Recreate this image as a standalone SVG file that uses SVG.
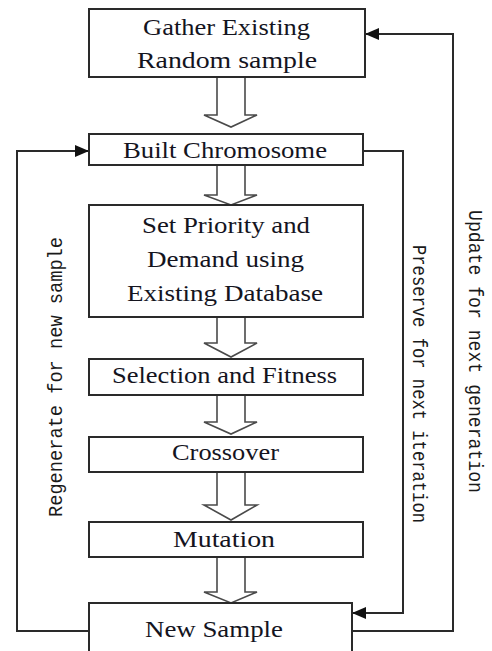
<svg xmlns="http://www.w3.org/2000/svg" width="492" height="651" viewBox="0 0 492 651">
<defs>
<style>
.box{fill:#fff;stroke:#2a2a2a;stroke-width:2}
.ha{fill:#fff;stroke:#4a4a4a;stroke-width:1.6;stroke-linejoin:miter}
.ln{fill:none;stroke:#2a2a2a;stroke-width:2}
</style>
<marker id="ah" markerWidth="14" markerHeight="12" refX="14" refY="6" orient="auto" markerUnits="userSpaceOnUse">
<path d="M0,0 L14,6 L0,12 Z" fill="#111"/>
</marker>
</defs>
<rect width="492" height="651" fill="#fff"/>
<g id="connectors">
<path class="ha" d="M217,77 V115 H204 L231,127 L257,115 H245 V77"/>
<path class="ha" d="M217,165 V195 H204 L231,205 L257,195 H245 V165"/>
<path class="ha" d="M217,317 V343 H204 L231,357 L257,343 H245 V317"/>
<path class="ha" d="M217,395 V422 H204 L231,434 L257,422 H245 V395"/>
<path class="ha" d="M217,472 V505 H204 L231,520 L257,505 H245 V472"/>
<path class="ha" d="M217,557 V592 H204 L231,603 L257,592 H245 V557"/>
<path class="ln" d="M89,631 H17 V151 H89" marker-end="url(#ah)"/>
<path class="ln" d="M363,151 H403 V613 H352" marker-end="url(#ah)"/>
<path class="ln" d="M352,631 H453 V34 H365" marker-end="url(#ah)"/>
</g>
<g font-family="Liberation Serif, serif" font-size="24" fill="#14141e" text-anchor="middle">
<g id="gather">
<rect class="box" x="89" y="9" width="276" height="68"/>
<text x="226.5" y="35" textLength="167" lengthAdjust="spacingAndGlyphs">Gather Existing</text>
<text x="227" y="68" textLength="180" lengthAdjust="spacingAndGlyphs">Random sample</text>
</g>
<g id="built">
<rect class="box" x="89" y="134" width="274" height="31"/>
<text x="225" y="158" textLength="204" lengthAdjust="spacingAndGlyphs">Built Chromosome</text>
</g>
<g id="priority">
<rect class="box" x="89" y="205" width="274" height="112"/>
<text x="226" y="233" textLength="168" lengthAdjust="spacingAndGlyphs">Set Priority  and</text>
<text x="225.5" y="267" textLength="157" lengthAdjust="spacingAndGlyphs">Demand using</text>
<text x="225" y="301" textLength="196" lengthAdjust="spacingAndGlyphs">Existing Database</text>
</g>
<g id="selection">
<rect class="box" x="89" y="359" width="274" height="36"/>
<text x="224.5" y="383" textLength="225" lengthAdjust="spacingAndGlyphs">Selection and Fitness</text>
</g>
<g id="crossover">
<rect class="box" x="89" y="437" width="274" height="35"/>
<text x="225.5" y="460" textLength="107" lengthAdjust="spacingAndGlyphs">Crossover</text>
</g>
<g id="mutation">
<rect class="box" x="89" y="522" width="274" height="35"/>
<text x="224" y="547" textLength="102" lengthAdjust="spacingAndGlyphs">Mutation</text>
</g>
<g id="newsample">
<rect class="box" x="89" y="603" width="263" height="60"/>
<text x="214" y="637" textLength="138" lengthAdjust="spacingAndGlyphs">New Sample</text>
</g>
</g>
<g id="labels" font-family="Liberation Mono, monospace" font-size="20" fill="#1a1a1a" text-anchor="middle">
<text transform="translate(62,377) rotate(-90)" textLength="280" lengthAdjust="spacingAndGlyphs">Regenerate for new sample</text>
<text transform="translate(413,384) rotate(90)" textLength="278" lengthAdjust="spacingAndGlyphs">Preserve for next iteration</text>
<text transform="translate(469,351.5) rotate(90)" textLength="283" lengthAdjust="spacingAndGlyphs">Update for next generation</text>
</g>
</svg>
